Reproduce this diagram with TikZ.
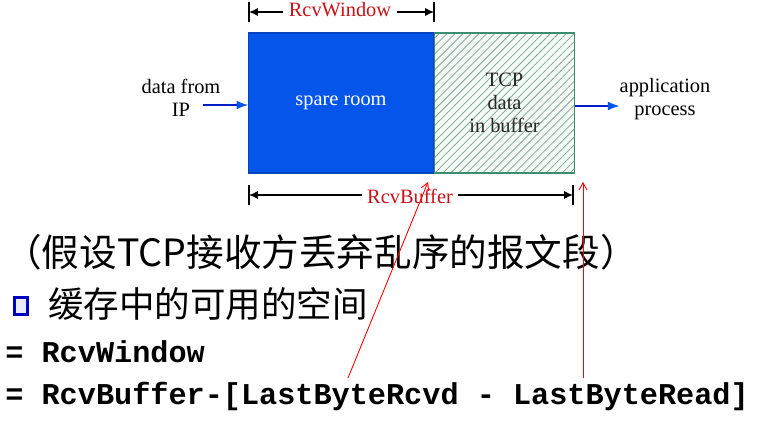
\documentclass[tikz,border=0pt]{standalone}
\usepackage{fontspec}
\setmainfont{Liberation Serif}
\setmonofont{Liberation Mono}
\newfontfamily\cjk{Noto Sans CJK SC}
\usetikzlibrary{arrows.meta,patterns.meta}
\definecolor{roomblue}{RGB}{5,85,235}
\definecolor{flowblue}{RGB}{0,30,200}
\definecolor{hatchgreen}{RGB}{130,165,145}
\definecolor{edgegreen}{RGB}{60,140,110}
\definecolor{bufbg}{RGB}{244,250,246}
\definecolor{dimred}{RGB}{200,16,24}
\tikzset{
  lbl/.style={font=\fontsize{11.6}{13}\selectfont,align=center,inner sep=0pt},
  room/.style={lbl,fill=roomblue,draw=roomblue!80!black,line width=0.6pt,
    minimum width=3.7cm,minimum height=2.8cm,text=white},
  buffer/.style={lbl,preaction={fill=bufbg},
    pattern={Lines[angle=45,distance=3.2pt,line width=0.45pt]},pattern color=hatchgreen,
    draw=edgegreen,line width=0.6pt,minimum width=2.8cm,minimum height=2.8cm,text=black!85},
  dimtxt/.style={lbl,text=dimred,inner xsep=3pt},
  flow/.style={draw=flowblue,line width=0.7pt,-{Latex[length=6.5pt,width=5pt,color=roomblue]}},
  dim/.style={line width=0.6pt,-{Latex[length=5pt,width=4.5pt]}},
  tick/.style={line width=0.9pt},
  hint/.style={red,line width=0.5pt,-{Straight Barb[length=4pt,width=4.5pt]}},
  say/.style={anchor=base west,inner sep=0pt},
  bullet/.style={draw=blue!75!black,fill=blue!8,line width=1.3pt,
    minimum width=0.26cm,minimum height=0.34cm,inner sep=0pt}
}
\begin{document}
\begin{tikzpicture}[x=0.02cm,y=-0.02cm]
  \useasboundingbox(0,0)rectangle(757,425);
  % receive buffer
  \node(1)at(341,103)[room]{spare room};
  \node(2)at(1.east)[buffer,anchor=west]{TCP\\data\\in buffer};
  \node(3)at(181,98)[lbl]{data from\\IP};
  \node(4)at(665,99)[lbl]{application\\process};
  \coordinate(5)at(203,105);
  \draw[flow](5)--(5-|1.west);
  \draw[flow]([yshift=-0.06cm]2.east)--([yshift=-0.06cm]2.east-|4.west);
  % RcvWindow
  \coordinate(6)at(249,12);
  \coordinate(7)at(434,12);
  \node(8)at(340,10)[dimtxt]{RcvWindow};
  \draw[tick](6)++(0,-10)--++(0,20);
  \draw[tick](7)++(0,-10)--++(0,20);
  \draw[dim](8.west|-6)--(6);
  \draw[dim](8.east|-7)--(7);
  % RcvBuffer
  \coordinate(9)at(249,195);
  \coordinate(10)at(573,195);
  \node(11)at(410,196)[dimtxt]{RcvBuffer};
  \draw[tick](9)++(0,-10)--++(0,20);
  \draw[tick](10)++(0,-10)--++(0,20);
  \draw[dim](11.west|-9)--(9);
  \draw[dim](11.east|-10)--(10);
  % text below
  \node(12)at(4,267)[say,font=\cjk\fontsize{21.4}{24}\selectfont]{（假设TCP接收方丢弃乱序的报文段）};
  \node(13)at(21,306)[bullet]{};
  \node(14)at(48,317)[say,font=\cjk\fontsize{20.2}{24}\selectfont]{缓存中的可用的空间};
  \node(15)at(5,362)[say,font=\ttfamily\bfseries\fontsize{17.2}{20}\selectfont]{= RcvWindow};
  \node(16)at(5,404)[say,font=\ttfamily\bfseries\fontsize{17.2}{20}\selectfont]{= RcvBuffer-[LastByteRcvd - LastByteRead]};
  % pointers
  \coordinate(17)at(348,378);
  \coordinate(18)at(428,182);
  \coordinate(19)at(583,378);
  \coordinate(20)at(583,182);
  \draw[hint](17)--(18);
  \draw[hint](19)--(20);
\end{tikzpicture}
\end{document}
